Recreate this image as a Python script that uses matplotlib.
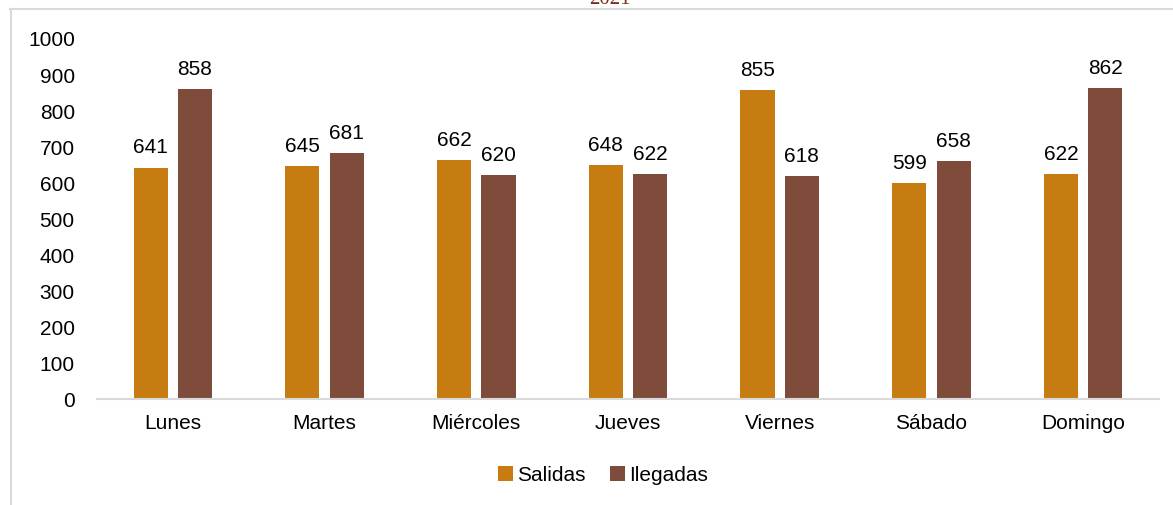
import matplotlib
matplotlib.use("Agg")
import matplotlib.pyplot as plt
import numpy as np
from matplotlib.lines import Line2D

dias = ["Lunes", "Martes", "Miércoles", "Jueves", "Viernes", "Sábado", "Domingo"]
salidas = [641, 645, 662, 648, 855, 599, 622]
llegadas = [858, 681, 620, 622, 618, 658, 862]

plt.rcParams["font.family"] = ["Liberation Sans", "DejaVu Sans"]

W, H = 1173, 506
fig = plt.figure(figsize=(W / 100, H / 100), dpi=100)
ax = fig.add_axes([97 / W, (H - 400) / H, (1159 - 97) / W, 361 / H])

x = np.arange(len(dias))
bw = 0.225
off = 0.146
b1 = ax.bar(x - off, salidas, bw, color="#C77C12", label="Salidas")
b2 = ax.bar(x + off, llegadas, bw, color="#7F4C3C", label="Ilegadas")
ax.bar_label(b1, padding=8, fontsize=15)
ax.bar_label(b2, padding=8, fontsize=15)

ax.set_xlim(-0.5, len(dias) - 0.5)
ax.set_ylim(0, 1000)
ax.set_yticks(range(0, 1001, 100))
ax.set_xticks(x)
ax.set_xticklabels(dias)
ax.tick_params(axis="both", length=0, labelsize=15)
ax.tick_params(axis="x", pad=10)
ax.tick_params(axis="y", pad=16)
for s in ["top", "right", "left"]:
    ax.spines[s].set_visible(False)
ax.spines["bottom"].set_color("#D9D9D9")
ax.spines["bottom"].set_linewidth(1.5)

fig.legend(loc="center", bbox_to_anchor=(603 / W, 1 - 476 / H), ncol=2, frameon=False,
           fontsize=15, handlelength=0.7, handleheight=0.7, handletextpad=0.2,
           columnspacing=1.2)

# chart frame (partially cropped)
fig.add_artist(Line2D([10.5 / W, 10.5 / W], [0, 1 - 10 / H], color="#D9D9D9", lw=1.5,
                      transform=fig.transFigure))
fig.add_artist(Line2D([10 / W, 1], [1 - 10 / H, 1 - 10 / H], color="#D9D9D9", lw=1.5,
                      transform=fig.transFigure))

fig.text(610 / W, 1 - 4 / H, "2021", ha="center", va="baseline", fontsize=15,
         family="Liberation Serif", color="#7B2C1A")

fig.savefig("out.png", dpi=100)
